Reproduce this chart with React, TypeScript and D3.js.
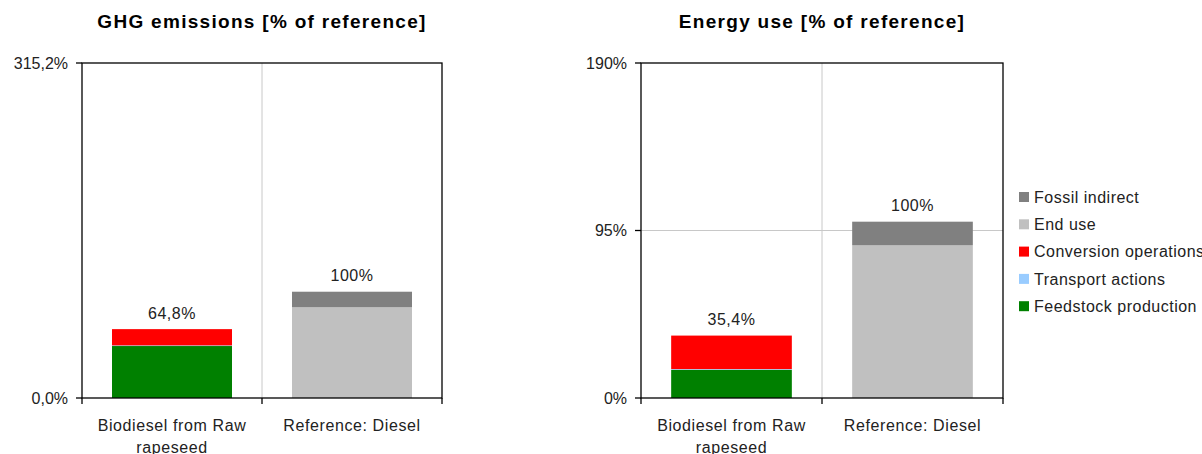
import React from 'react';
import * as d3 from 'd3';

const categories = ['Biodiesel from Raw rapeseed', 'Reference: Diesel'];
const categoryLines = [['Biodiesel from Raw', 'rapeseed'], ['Reference: Diesel']];

// stacked bottom to top
const seriesNames = ['Feedstock production', 'Transport actions', 'Conversion operations', 'End use', 'Fossil indirect'];
const seriesColors = ['#008000', '#99ccff', '#ff0000', '#c0c0c0', '#808080'];

// values per category, in seriesNames order
const ghgValues = [
  [48.9, 0.6, 15.3, 0, 0],
  [0, 0, 0, 85.4, 14.6],
];
const ghgTotals = ['64,8%', '100%'];
const ghgMax = 315.2;
const ghgTicks = [0, 315.2];
const ghgTickLabels = ['0,0%', '315,2%'];

const energyValues = [
  [16.0, 0.4, 19.0, 0, 0],
  [0, 0, 0, 86.6, 13.4],
];
const energyTotals = ['35,4%', '100%'];
const energyMax = 190;
const energyTicks = [0, 95, 190];
const energyTickLabels = ['0%', '95%', '190%'];

const FONT = 'Arial, "Liberation Sans", sans-serif';
const LS = 0.5;

type PanelProps = {
  title: string;
  left: number;
  right: number;
  values: number[][];
  totals: string[];
  max: number;
  ticks: number[];
  tickLabels: string[];
};

const Panel = ({ title, left, right, values, totals, max, ticks, tickLabels }: PanelProps) => {
  const top = 63;
  const bottom = 398;
  const x = d3.scaleBand<string>().domain(categories).range([left, right]);
  const y = d3.scaleLinear().domain([0, max]).range([bottom, top]);
  const bw = x.bandwidth();

  const rows = categories.map((c, i) => {
    const r: any = { cat: c };
    seriesNames.forEach((s, j) => (r[s] = values[i][j]));
    return r;
  });
  const stacked = d3.stack<any>().keys(seriesNames)(rows);

  return (
    <g>
      <text x={(left + right) / 2} y={28} textAnchor="middle" fontFamily={FONT} fontWeight="bold" fontSize={19}
        letterSpacing={1.3}>
        {title}
      </text>
      {/* gridlines */}
      {ticks.filter(t => t > 0 && t < max).map(t => (
        <line key={t} x1={left} x2={right} y1={y(t)} y2={y(t)} stroke="#c8c8c8" />
      ))}
      <line x1={x(categories[1])} x2={x(categories[1])} y1={top} y2={bottom} stroke="#c8c8c8" />
      {/* bars */}
      {stacked.map((layer, j) =>
        layer.map((d, i) =>
          d[1] - d[0] > 0 ? (
            <rect
              key={`${j}-${i}`}
              x={(x(categories[i]) as number) + bw / 6}
              width={(bw * 2) / 3}
              y={y(d[1])}
              height={y(d[0]) - y(d[1])}
              fill={seriesColors[j]}
            />
          ) : null
        )
      )}
      {/* value labels */}
      {categories.map((c, i) => (
        <text key={c} x={(x(c) as number) + bw / 2} y={y(d3.sum(values[i])) - 10.5} textAnchor="middle"
          fontFamily={FONT} fontSize={16} fill="#222" letterSpacing={LS}>
          {totals[i]}
        </text>
      ))}
      {/* frame */}
      <rect x={left} y={top} width={right - left} height={bottom - top} fill="none" stroke="#000" strokeWidth={1.3} />
      {/* y ticks */}
      {ticks.map((t, i) => (
        <g key={t}>
          <line x1={left - 6} x2={left} y1={y(t)} y2={y(t)} stroke="#000" strokeWidth={1.3} />
          <text x={left - 14} y={y(t)} dy="0.36em" textAnchor="end" fontFamily={FONT} fontSize={16} fill="#222">
            {tickLabels[i]}
          </text>
        </g>
      ))}
      {/* x ticks */}
      {[left, x(categories[1]) as number, right].map(v => (
        <line key={v} x1={v} x2={v} y1={bottom} y2={bottom + 6} stroke="#000" strokeWidth={1.3} />
      ))}
      {categories.map((c, i) => (
        <text key={c} x={(x(c) as number) + bw / 2} y={431} textAnchor="middle" fontFamily={FONT} fontSize={16}
          fill="#222" letterSpacing={0.6}>
          {categoryLines[i].map((line, k) => (
            <tspan key={k} x={(x(c) as number) + bw / 2} dy={k === 0 ? 0 : 21.5}>{line}</tspan>
          ))}
        </text>
      ))}
    </g>
  );
};

const App = () => {
  const legendOrder = [4, 3, 2, 1, 0];
  return (
    <svg width={1202} height={454} style={{ position: 'absolute', left: 0, top: 0, background: '#fff' }}>
      <rect width={1202} height={454} fill="#fff" />
      <Panel title="GHG emissions [% of reference]" left={82} right={442} values={ghgValues} totals={ghgTotals}
        max={ghgMax} ticks={ghgTicks} tickLabels={ghgTickLabels} />
      <Panel title="Energy use [% of reference]" left={641} right={1003} values={energyValues} totals={energyTotals}
        max={energyMax} ticks={energyTicks} tickLabels={energyTickLabels} />
      <g>
        {legendOrder.map((j, k) => (
          <g key={j} transform={`translate(1019,${197 + k * 27.3})`}>
            <rect x={0} y={-5} width={10} height={10} fill={seriesColors[j]} />
            <text x={15} y={0} dy="0.36em" fontFamily={FONT} fontSize={16} fill="#222" letterSpacing={LS}>
              {seriesNames[j]}
            </text>
          </g>
        ))}
      </g>
    </svg>
  );
};

export default App;
